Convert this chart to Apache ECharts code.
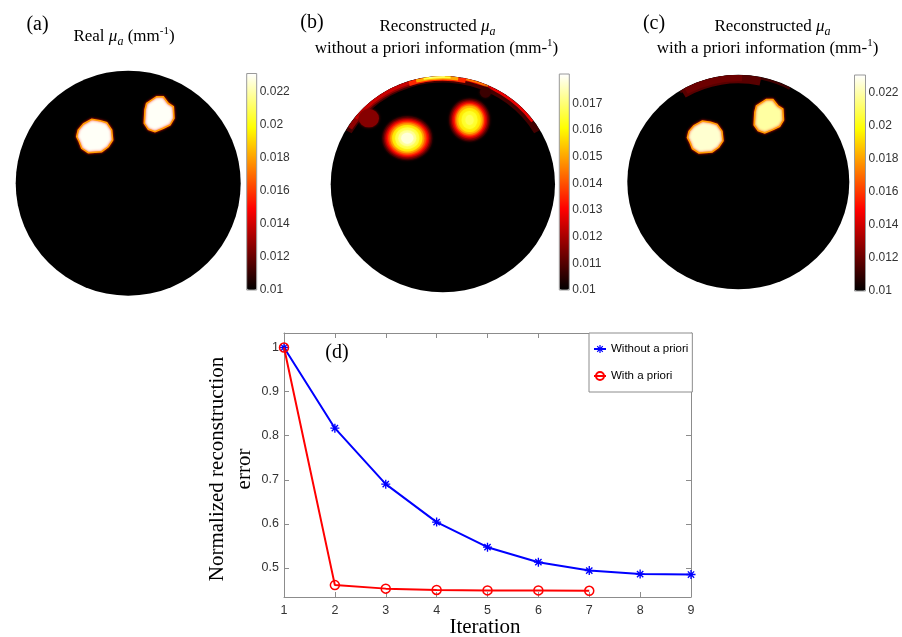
<!DOCTYPE html>
<html><head><meta charset="utf-8">
<script src="https://cdn.jsdelivr.net/npm/echarts@6/dist/echarts.min.js"></script>
<style>html,body{margin:0;padding:0;background:#fff}#c{width:902px;height:637px}</style>
</head><body><div id="c"></div>
<script>
// ---------- data ----------
const iterations = [1, 2, 3, 4, 5, 6, 7, 8, 9];
const iterationsWith = [1, 2, 3, 4, 5, 6, 7];
const errWithout = [1.0, 0.817, 0.690, 0.604, 0.547, 0.513, 0.494, 0.486, 0.485];
const errWith = [1.0, 0.461, 0.453, 0.450, 0.449, 0.449, 0.448];
const xTicks = [1, 2, 3, 4, 5, 6, 7, 8, 9];
const yTicks = [0.5, 0.6, 0.7, 0.8, 0.9, 1.0];
const cbarTicksAC = [0.01, 0.012, 0.014, 0.016, 0.018, 0.02, 0.022];
const cbarTicksB = [0.01, 0.011, 0.012, 0.013, 0.014, 0.015, 0.016, 0.017];
const rangeAC = [0.01, 0.0231];
const rangeB = [0.01, 0.0181];

// disc background: [mu_a, x, y, rx, ry] (unit-disc coordinates)
const discBackground = [[0.01, 0, 0, 1, 1]];
// inclusion outlines (unit-disc coordinates)
const blobShapes = [
  [[-0.399,0.526],[-0.324,0.568],[-0.251,0.556],[-0.191,0.538],[-0.147,0.473],[-0.138,0.384],
   [-0.177,0.324],[-0.236,0.280],[-0.355,0.271],[-0.413,0.310],[-0.435,0.369],[-0.458,0.413],[-0.444,0.473]],
  [[0.164,0.710],[0.253,0.769],[0.312,0.769],[0.356,0.710],[0.401,0.680],[0.407,0.577],
   [0.372,0.517],[0.312,0.488],[0.238,0.458],[0.179,0.479],[0.143,0.532],[0.149,0.651]]
];
// [mu_a, shapeIndex]
const blobsA = [[0.0230, 0], [0.0230, 1]];
const blobsC = [[0.0225, 0], [0.0219, 1]];
// reconstructed (b) blobs, layered: [mu_a, x, y, rx, ry]
const blobsB = [
  [0.0116, -0.66, 0.61, 0.09, 0.085],
  [0.0107, 0.38, 0.85, 0.05, 0.05],
  [0.0106, -0.317, 0.425, 0.223, 0.204],
  [0.0113, -0.317, 0.425, 0.210, 0.190],
  [0.0122, -0.317, 0.425, 0.196, 0.176],
  [0.0130, -0.317, 0.425, 0.183, 0.164],
  [0.0138, -0.317, 0.425, 0.170, 0.153],
  [0.0147, -0.317, 0.425, 0.152, 0.139],
  [0.0158, -0.317, 0.425, 0.134, 0.123],
  [0.0166, -0.317, 0.425, 0.107, 0.099],
  [0.0172, -0.317, 0.425, 0.080, 0.074],
  [0.0178, -0.317, 0.425, 0.054, 0.051],
  [0.0106, 0.238, 0.594, 0.183, 0.199],
  [0.0113, 0.238, 0.594, 0.170, 0.185],
  [0.0122, 0.238, 0.594, 0.156, 0.171],
  [0.0130, 0.238, 0.594, 0.143, 0.157],
  [0.0140, 0.238, 0.594, 0.129, 0.144],
  [0.0150, 0.238, 0.594, 0.116, 0.130],
  [0.0158, 0.238, 0.594, 0.098, 0.111],
  [0.0164, 0.238, 0.594, 0.071, 0.083],
  [0.0168, 0.238, 0.594, 0.036, 0.046]
];
// boundary artefacts: [mu_a, fromAngleDeg, toAngleDeg, depth]
const rimB = [
  [0.0108, 30, 150, 0.06],
  [0.0117, 100, 148, 0.045],
  [0.0124, 108, 142, 0.03],
  [0.0128, 36, 80, 0.025],
  [0.0135, 78, 108, 0.045],
  [0.0145, 66, 78, 0.018],
  [0.0150, 82, 104, 0.032],
  [0.0165, 86, 100, 0.02],
  [0.0172, 89, 97, 0.012]
];
const rimC = [
  [0.0112, 62, 122, 0.025],
  [0.0117, 78, 121, 0.08],
  [0.0121, 88, 119, 0.06]
];

// ---------- styles ----------
const HOT = ['#000000','#550000','#aa0000','#ff0000','#ff5500','#ffaa00','#ffff00','#ffff80','#ffffff'];
const SERIF = '"Liberation Serif","Times New Roman",serif';
const SANS = '"Liberation Sans",Arial,sans-serif';
const AXIS_GRAY = '#8c8c8c';
const ASTERISK = 'path://M8.5 0L11.5 0L11.5 20L8.5 20Z M0 8.5L20 8.5L20 11.5L0 11.5Z M1.94 4.06L4.06 1.94L18.06 15.94L15.94 18.06Z M15.94 1.94L18.06 4.06L4.06 18.06L1.94 15.94Z';

function renderEllipse(blur) {
  return function (params, api) {
    const c = api.coord([api.value(1), api.value(2)]);
    const s = api.size([api.value(3), api.value(4)]);
    const col = api.visual('color');
    return {type: 'circle', x: c[0], y: c[1], scaleY: s[1] / s[0], z2: params.dataIndex,
      shape: {cx: 0, cy: 0, r: s[0]},
      style: {fill: col, shadowBlur: blur, shadowColor: blur ? col : 'transparent'}};
  };
}
function renderRim(params, api) {
  const c = api.coord([0, 0]);
  const s = api.size([1, 1]);
  const a0 = api.value(1), a1 = api.value(2), d = api.value(3);
  return {type: 'sector', x: c[0], y: c[1], scaleY: s[1] / s[0], z2: params.dataIndex,
    shape: {cx: 0, cy: 0, r: s[0] * 0.998, r0: s[0] * (1 - d),
      startAngle: -a1 * Math.PI / 180, endAngle: -a0 * Math.PI / 180, clockwise: true},
    style: {fill: api.visual('color')}};
}
function renderPoly(params, api) {
  const pts = blobShapes[api.value(1)].map(p => api.coord(p));
  return {type: 'polygon', z2: params.dataIndex, shape: {points: pts},
    style: {fill: api.visual('color'), stroke: '#ffa000', lineWidth: 1.5,
      shadowBlur: 2.5, shadowColor: 'rgba(255,20,0,0.95)'}};
}

const discGrids = [
  {left: 15.7, top: 70.7, width: 225, height: 225},
  {left: 330.7, top: 76, width: 224.3, height: 216.3},
  {left: 627.3, top: 74.7, width: 222, height: 214.6}
];
const cbarGrids = [
  {left: 246.7, top: 73.5, width: 10, height: 216.5},
  {left: 559.3, top: 74, width: 10, height: 216},
  {left: 854.5, top: 75, width: 11, height: 216}
];
const cbarRanges = [rangeAC, rangeB, rangeAC];
const cbarTicks = [cbarTicksAC, cbarTicksB, cbarTicksAC];
const lineGrid = {left: 284, top: 333, width: 407, height: 264};

const grids = [];
const xAxes = [];
const yAxes = [];
discGrids.forEach((g, i) => {
  grids.push(Object.assign({show: false}, g));
  xAxes.push({type: 'value', gridIndex: i, min: -1, max: 1, show: false});
  yAxes.push({type: 'value', gridIndex: i, min: -1, max: 1, show: false});
});
cbarGrids.forEach((g, i) => {
  grids.push(Object.assign({show: true, z: 10, borderColor: '#9a9a9a', borderWidth: 1, backgroundColor: 'transparent'}, g));
  xAxes.push({type: 'value', gridIndex: 3 + i, min: 0, max: 1, show: false});
  yAxes.push({type: 'value', gridIndex: 3 + i, position: 'right', min: cbarRanges[i][0], max: cbarRanges[i][1], z: 10,
    axisLine: {show: false}, splitLine: {show: false}, axisTick: {show: false},
    axisLabel: {customValues: cbarTicks[i], margin: 3, fontFamily: SANS, fontSize: 12, color: '#333',
      formatter: v => String(+v.toFixed(4))}});
});
grids.push(Object.assign({show: false}, lineGrid));
const axLine = {show: true, onZero: false, lineStyle: {color: AXIS_GRAY, width: 1}};
const axTick = {show: true, inside: true, length: 5, lineStyle: {color: AXIS_GRAY}};
xAxes.push({type: 'value', gridIndex: 6, min: 1, max: 9, interval: 1, position: 'bottom',
  axisLine: axLine, axisTick: axTick, splitLine: {show: false},
  axisLabel: {margin: 7, fontFamily: SANS, fontSize: 12.5, color: '#333'}});
xAxes.push({type: 'value', gridIndex: 6, min: 1, max: 9, interval: 1, position: 'top',
  axisLine: axLine, axisTick: axTick, splitLine: {show: false}, axisLabel: {show: false}});
yAxes.push({type: 'value', gridIndex: 6, min: 0.434, max: 1.033, position: 'left',
  axisLine: axLine, axisTick: Object.assign({customValues: yTicks}, axTick), splitLine: {show: false},
  axisLabel: {customValues: yTicks, margin: 5, fontFamily: SANS, fontSize: 12.5, color: '#333',
    formatter: v => String(+v.toFixed(1))}});
yAxes.push({type: 'value', gridIndex: 6, min: 0.434, max: 1.033, position: 'right',
  axisLine: axLine, axisTick: Object.assign({customValues: yTicks}, axTick), splitLine: {show: false},
  axisLabel: {show: false}});

const series = [
  {type: 'custom', xAxisIndex: 0, yAxisIndex: 0, z: 2, renderItem: renderEllipse(0), data: discBackground},
  {type: 'custom', xAxisIndex: 0, yAxisIndex: 0, z: 4, renderItem: renderPoly, data: blobsA},
  {type: 'custom', xAxisIndex: 1, yAxisIndex: 1, z: 2, renderItem: renderEllipse(0), data: discBackground},
  {type: 'custom', xAxisIndex: 1, yAxisIndex: 1, z: 3, renderItem: renderRim, data: rimB},
  {type: 'custom', xAxisIndex: 1, yAxisIndex: 1, z: 4, renderItem: renderEllipse(3), data: blobsB},
  {type: 'custom', xAxisIndex: 2, yAxisIndex: 2, z: 2, renderItem: renderEllipse(0), data: discBackground},
  {type: 'custom', xAxisIndex: 2, yAxisIndex: 2, z: 3, renderItem: renderRim, data: rimC},
  {type: 'custom', xAxisIndex: 2, yAxisIndex: 2, z: 4, renderItem: renderPoly, data: blobsC},
  {type: 'line', name: 'Without a priori', xAxisIndex: 6, yAxisIndex: 6, z: 5,
    data: iterations.map((x, i) => [x, errWithout[i]]),
    symbol: ASTERISK, symbolSize: 9, showAllSymbol: true, color: '#0000ff',
    lineStyle: {color: '#0000ff', width: 2}, itemStyle: {color: '#0000ff'}},
  {type: 'line', name: 'With a priori', xAxisIndex: 6, yAxisIndex: 6, z: 6,
    data: iterationsWith.map((x, i) => [x, errWith[i]]),
    symbol: 'circle', symbolSize: 9, showAllSymbol: true, color: '#ff0000',
    lineStyle: {color: '#ff0000', width: 2},
    itemStyle: {color: 'rgba(255,0,0,0)', borderColor: '#ff0000', borderWidth: 1.5}}
];

const visualMaps = cbarGrids.map((g, i) => ({
  type: 'continuous', seriesIndex: [[0, 1], [2, 3, 4], [5, 6, 7]][i], dimension: 0,
  min: cbarRanges[i][0], max: cbarRanges[i][1], inRange: {color: HOT},
  left: g.left, top: g.top, itemWidth: g.width, itemHeight: g.height,
  calculable: false, hoverLink: false, padding: 0, text: null, z: 4
}));

function txt(x, y, text, size, extra) {
  const rich = {
    i: {fontFamily: SERIF, fontSize: size, fontStyle: 'italic', fill: '#000'},
    sub: {fontFamily: SERIF, fontSize: Math.round(size * 0.7), fontStyle: 'italic', fill: '#000', verticalAlign: 'bottom'},
    sup: {fontFamily: SERIF, fontSize: Math.round(size * 0.65), fill: '#000', verticalAlign: 'top'}
  };
  return Object.assign({type: 'text', x: x, y: y, z: 20,
    style: {text: text, fontFamily: SERIF, fontSize: size, fill: '#000', lineHeight: Math.round(size * 1.3),
      align: 'center', verticalAlign: 'middle', textAlign: 'center', textVerticalAlign: 'middle', rich: rich}}, extra || {});
}

const option = {
  animation: false,
  backgroundColor: '#fff',
  grid: grids, xAxis: xAxes, yAxis: yAxes, series: series, visualMap: visualMaps,
  legend: {orient: 'vertical', left: 589, top: 333, z: 8, backgroundColor: '#fff', borderColor: AXIS_GRAY, borderWidth: 1,
    padding: [10, 4, 10, 4], itemWidth: 12, itemHeight: 10, itemGap: 15,
    textStyle: {fontFamily: SANS, fontSize: 11.5, color: '#000'},
    data: ['Without a priori', 'With a priori']},
  graphic: {elements: [
    txt(37.5, 24.5, '(a)', 20),
    txt(124, 37, 'Real {i|μ}{sub|a} (mm{sup|-1})', 17),
    txt(312, 22.5, '(b)', 20),
    txt(437.5, 27, 'Reconstructed {i|μ}{sub|a}', 17),
    txt(436.5, 48.5, 'without a priori information (mm-{sup|1})', 17),
    txt(654, 24, '(c)', 20),
    txt(772.5, 27, 'Reconstructed {i|μ}{sub|a}', 17),
    txt(767.5, 48.5, 'with a priori information (mm-{sup|1})', 17),
    txt(337, 353, '(d)', 20),
    txt(231, 469, 'Normalized reconstruction\nerror', 21, {rotation: Math.PI / 2}),
    txt(485, 627, 'Iteration', 21)
  ]}
};
const chart = echarts.init(document.getElementById('c'), null, {renderer: 'canvas'});
chart.setOption(option);
</script></body></html>
